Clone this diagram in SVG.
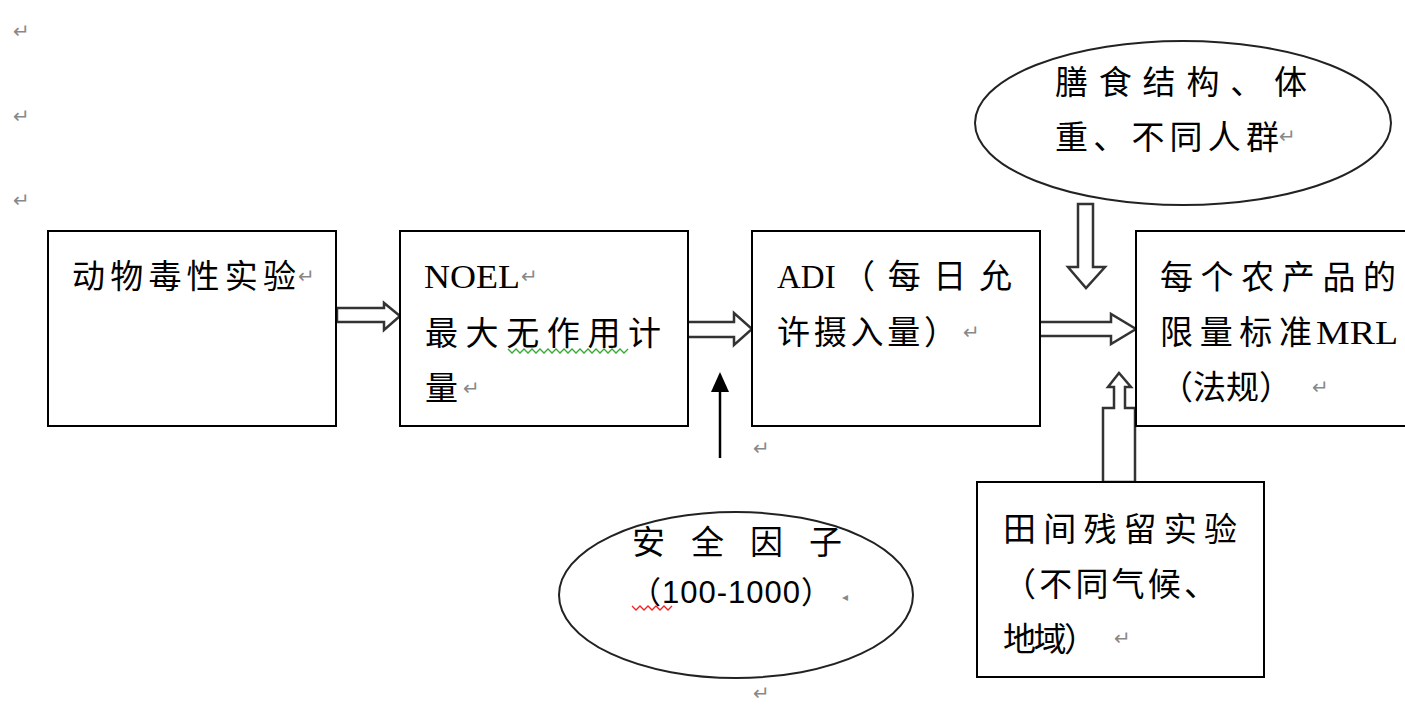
<svg xmlns="http://www.w3.org/2000/svg" width="1405" height="707" viewBox="0 0 1405 707">
<style>
.box{fill:#fff;stroke:#000;stroke-width:2}
.ell{fill:#fff;stroke:#222;stroke-width:2}
.t{font-family:"Liberation Serif","Noto Sans CJK SC",serif;font-size:33px;fill:#000}
.s{font-family:"Liberation Sans","Noto Sans CJK SC",sans-serif;font-size:31px;fill:#000}
.rm{font-family:"DejaVu Sans",sans-serif;font-size:20px;fill:#888}
.hol{fill:#fff;stroke:#333;stroke-width:2.5;stroke-linejoin:miter}
.wav{fill:none;stroke-width:1.3}
</style>
<rect width="1405" height="707" fill="#fff"/>
<g id="marks">
<text class="rm" x="13" y="38">↵</text>
<text class="rm" x="13" y="123">↵</text>
<text class="rm" x="13" y="207">↵</text>
<text class="rm" x="753" y="455">↵</text>
<text class="rm" x="753" y="700">↵</text>
</g>
<g id="connectors">
<polygon class="hol" points="337,308 384,308 384,303 400,316 384,330 384,322 337,322"/>
<polygon class="hol" points="685,322 734,322 734,313 752,329 734,345 734,337 685,337"/>
<polygon class="hol" points="1038,322 1111,322 1111,314 1136,329 1111,344 1111,336 1038,336"/>
<polygon class="hol" points="1078,204 1093,204 1093,267 1105,267 1086,288 1068,267 1078,267"/>
<polygon class="hol" points="1103,482 1103,408 1114,408 1114,387 1108,387 1119,373 1131,387 1125,387 1125,408 1135,408 1135,482"/>
<line x1="720" y1="458" x2="720" y2="390" stroke="#000" stroke-width="2.5"/>
<polygon points="720,372 711,392 729,392" fill="#000"/>
</g>
<g id="n1">
<rect class="box" x="48" y="231" width="288" height="195"/>
<text class="t" x="72" y="288" textLength="224" lengthAdjust="spacing">动物毒性实验</text>
<text class="rm" x="298" y="283">↵</text>
</g>
<g id="n2">
<rect class="box" x="400" y="231" width="288" height="195"/>
<text class="t" x="424" y="288" textLength="96" lengthAdjust="spacingAndGlyphs">NOEL</text>
<text class="rm" x="521" y="283">↵</text>
<text class="t" x="425" y="345" textLength="236" lengthAdjust="spacing">最大无作用计</text>
<path class="wav" stroke="#3a3" d="M508,349 l4,4 l4,-4 l4,4 l4,-4 l4,4 l4,-4 l4,4 l4,-4 l4,4 l4,-4 l4,4 l4,-4 l4,4 l4,-4 l4,4 l4,-4 l4,4 l4,-4 l4,4 l4,-4 l4,4 l4,-4 l4,4 l4,-4 l4,4 l4,-4 l4,4 l4,-4 l4,4 l4,-4"/>
<text class="t" x="425" y="400">量</text>
<text class="rm" x="463" y="395">↵</text>
</g>
<g id="n3">
<rect class="box" x="752" y="231" width="288" height="195"/>
<text class="t" x="777" y="288">ADI</text>
<text class="t" x="842" y="288" textLength="170" lengthAdjust="spacing">（每日允</text>
<text class="t" x="777" y="344" textLength="180" lengthAdjust="spacing">许摄入量）</text>
<text class="rm" x="963" y="339">↵</text>
</g>
<g id="n4">
<rect class="box" x="1136" y="231" width="290" height="195"/>
<text class="t" x="1160" y="289" textLength="236" lengthAdjust="spacing">每个农产品的</text>
<text class="t" x="1160" y="344" textLength="152" lengthAdjust="spacing">限量标准</text>
<text class="t" x="1316" y="344" textLength="82" lengthAdjust="spacingAndGlyphs">MRL</text>
<text class="t" x="1160" y="399" textLength="132" lengthAdjust="spacing">（法规）</text>
<text class="rm" x="1312" y="394">↵</text>
</g>
<g id="n5">
<ellipse class="ell" cx="1183" cy="123" rx="208" ry="82"/>
<text class="t" x="1055" y="94" textLength="252" lengthAdjust="spacing">膳食结构、体</text>
<text class="t" x="1055" y="149" textLength="224" lengthAdjust="spacing">重、不同人群</text>
<text class="rm" x="1279" y="143">↵</text>
</g>
<g id="n6">
<ellipse class="ell" cx="736" cy="595" rx="177" ry="83"/>
<text class="t" x="632" y="554" textLength="210" lengthAdjust="spacing">安 全 因 子</text>
<text class="s" x="630" y="603" textLength="202" lengthAdjust="spacing">（100-1000）</text>
<path class="wav" stroke="#e22" d="M632,606 l4,4 l4,-4 l4,4 l4,-4 l4,4 l4,-4 l4,4 l4,-4 l4,4 l4,-4"/>
<text class="rm" x="842" y="601" style="font-size:12px">◂</text>
</g>
<g id="n7">
<rect class="box" x="977" y="482" width="287" height="195"/>
<text class="t" x="1003" y="541" textLength="234" lengthAdjust="spacing">田间残留实验</text>
<text class="t" x="1003" y="596" textLength="214" lengthAdjust="spacing">（不同气候、</text>
<text class="t" x="1003" y="651" textLength="94" lengthAdjust="spacing">地域）</text>
<text class="rm" x="1114" y="645">↵</text>
</g>
</svg>
